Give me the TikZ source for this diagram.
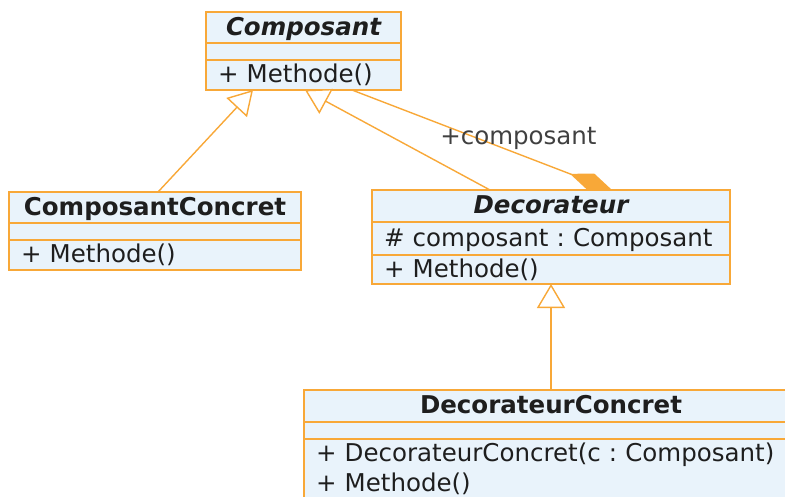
\documentclass[tikz,border=0pt]{standalone}
\usepackage{fontspec}
\setmainfont{DejaVu Sans}
\usepackage{tikz}
\usetikzlibrary{positioning,arrows.meta}
\definecolor{umlline}{RGB}{248,168,56}
\definecolor{umlfill}{RGB}{233,243,251}
\definecolor{umltext}{RGB}{30,30,30}
\frenchspacing

\begin{document}
\begin{tikzpicture}[x=1pt,y=-1pt,
  box/.style={draw=umlline,fill=umlfill,line width=1.8pt,inner xsep=12pt,inner ysep=0pt,
    outer sep=0pt,text width=#1,text=umltext,font=\fontsize{24.5}{30}\selectfont},
  cname/.style={box=#1,align=center,font=\fontsize{24.5}{30}\selectfont\bfseries,text height=18pt,text depth=3pt},
  crow/.style={box=#1,align=left,text height=18pt,text depth=3pt},
  clist/.style={box=#1,align=left,text height=18pt,inner ysep=5pt},
  cempty/.style={box=#1,text height=0pt,text depth=0pt},
  gen/.style={draw=umlline,line width=1.4pt,-{Triangle[open,length=24pt,width=28pt,fill=white]}},
  comp/.style={draw=umlline,line width=1.4pt,-{Diamond[length=45pt,width=18pt]}},
  note/.style={font=\fontsize{24.5}{30}\selectfont,text=umltext!85}
]
\useasboundingbox (0,0) rectangle (785,496);
\clip (0,0) rectangle (785,496);

% Composant
\node[cname=171,minimum height=31pt,anchor=north west] (compH) at (206,12) {\itshape Composant};
\node[cempty=171,minimum height=17pt,below=0pt of compH] (compA) {};
\node[crow=171,minimum height=30pt,below=0pt of compA] (compO) {+ Methode()};

% ComposantConcret
\node[cname=268,minimum height=31pt,anchor=north west] (ccH) at (9,192) {ComposantConcret};
\node[cempty=268,minimum height=17pt,below=0pt of ccH] (ccA) {};
\node[crow=268,minimum height=30pt,below=0pt of ccA] (ccO) {+ Methode()};

% Decorateur
\node[cname=334,minimum height=32pt,anchor=north west] (decH) at (372,190) {\itshape Decorateur};
\node[crow=334,minimum height=33pt,below=0pt of decH] (decA) {\# composant : Composant};
\node[crow=334,minimum height=29pt,below=0pt of decA] (decO) {+ Methode()};

% DecorateurConcret
\node[cname=470,minimum height=32pt,anchor=north west] (dcH) at (304,390) {DecorateurConcret};
\node[cempty=470,minimum height=17pt,below=0pt of dcH] (dcA) {};
\node[clist=470,inner ysep=4pt,below=0pt of dcA] (dcO) {+ DecorateurConcret(c : Composant)\\+ Methode()};

\draw[gen] ([xshift=149pt]ccH.north west) -- ([xshift=47pt]compO.south west);
\draw[gen] ([xshift=118pt]decH.north west) -- ([xshift=99pt]compO.south west);
\draw[gen] (dcH.north) -- (decO.south);
\draw[comp] ([xshift=146pt]compO.south west) -- node[note,pos=0.64,yshift=16pt]{+composant} ([xshift=240pt]decH.north west);
\end{tikzpicture}
\end{document}
